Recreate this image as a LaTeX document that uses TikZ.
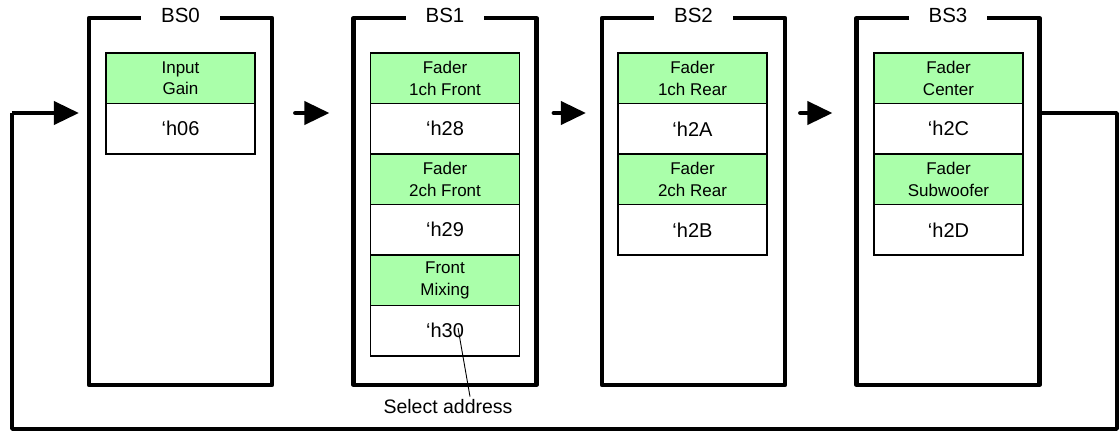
\documentclass[tikz,border=0pt]{standalone}
\usepackage{fontspec}
\setmainfont{Liberation Sans}
\usetikzlibrary{arrows.meta,calc}
\definecolor{cellgreen}{HTML}{AAFFAA}
\begin{document}
\begin{tikzpicture}[x=1pt,y=-1pt,
  frame/.style={draw, line width=4.2pt, line join=round, minimum width=183pt, minimum height=367pt, inner sep=0pt},
  title/.style={fill=white, inner xsep=20pt, inner ysep=2pt, font=\fontsize{20.5}{22}\selectfont},
  namecell/.style={draw, line width=1.2pt, fill=cellgreen, minimum width=149pt, minimum height=50.5pt, inner sep=0pt, align=center, font=\fontsize{17}{21.5}\selectfont},
  addrcell/.style={draw, line width=1.2pt, fill=white, minimum width=149pt, minimum height=50.5pt, inner sep=0pt, font=\fontsize{20}{22}\selectfont},
  flow/.style={line width=4pt, line cap=round, line join=round, -{Triangle[length=25pt,width=23pt]}},
  loopline/.style={line width=3.8pt, line join=round},
  callout/.style={line width=0.9pt},
  note/.style={inner sep=3pt, font=\fontsize{19.5}{22}\selectfont},
]
\useasboundingbox (0,0) rectangle (1120,432);

% frames
\node[frame] (bs0) at (180.5,201.5) {};
\node[frame] (bs1) at (445,201.5) {};
\node[frame] (bs2) at (693.5,201.5) {};
\node[frame] (bs3) at (948,201.5) {};
\node[title] (t0) at (bs0.north) {BS0};
\node[title] (t1) at (bs1.north) {BS1};
\node[title] (t2) at (bs2.north) {BS2};
\node[title] (t3) at (bs3.north) {BS3};

% BS0 cells
\node[namecell] (n01) at (180.5,78.25) {Input\\Gain};
\node[addrcell] (a01) at (180.5,128.75) {‘h06};

% BS1 cells
\node[namecell] (n11) at (445,78.25) {Fader\\1ch Front};
\node[addrcell] (a11) at (445,128.75) {‘h28};
\node[namecell] (n12) at (445,179.25) {Fader\\2ch Front};
\node[addrcell] (a12) at (445,229.75) {‘h29};
\node[namecell] (n13) at (445,280.25) {Front\\Mixing};
\node[addrcell] (a13) at (445,330.75) {‘h30};

% BS2 cells
\node[namecell] (n21) at (692.5,78.25) {Fader\\1ch Rear};
\node[addrcell] (a21) at (692.5,128.75) {‘h2A};
\node[namecell] (n22) at (692.5,179.25) {Fader\\2ch Rear};
\node[addrcell] (a22) at (692.5,229.75) {‘h2B};

% BS3 cells
\node[namecell] (n31) at (948.5,78.25) {Fader\\Center};
\node[addrcell] (a31) at (948.5,128.75) {‘h2C};
\node[namecell] (n32) at (948.5,179.25) {Fader\\Subwoofer};
\node[addrcell] (a32) at (948.5,229.75) {‘h2D};

% callout
\node[note] (sel) at (448,407) {Select address};
\coordinate (selpt) at (458,328);
\draw[callout] (selpt) -- ($(sel.north)+(22,0)$);

% arrows between frames
\coordinate (ay) at (0,113);
\draw[flow] ($(bs0.east |- ay)+(21,0)$) -- ($(bs1.west |- ay)+(-22,0)$);
\draw[flow] ($(bs1.east |- ay)+(15,0)$) -- ($(bs2.west |- ay)+(-14,0)$);
\draw[flow] ($(bs2.east |- ay)+(13,0)$) -- ($(bs3.west |- ay)+(-22,0)$);

% feedback loop
\coordinate (r1) at (1117,113);
\coordinate (r2) at (1117,429);
\coordinate (l2) at (12,429);
\coordinate (l1) at (12,113);
\coordinate (tipin) at ($(bs0.west |- ay)+(-8,0)$);
\draw[loopline] (r1 -| bs3.east) -- (r1) -- (r2) -- (l2) -- (l1);
\draw[flow, line cap=butt] (l1) -- (tipin);
\end{tikzpicture}
\end{document}
